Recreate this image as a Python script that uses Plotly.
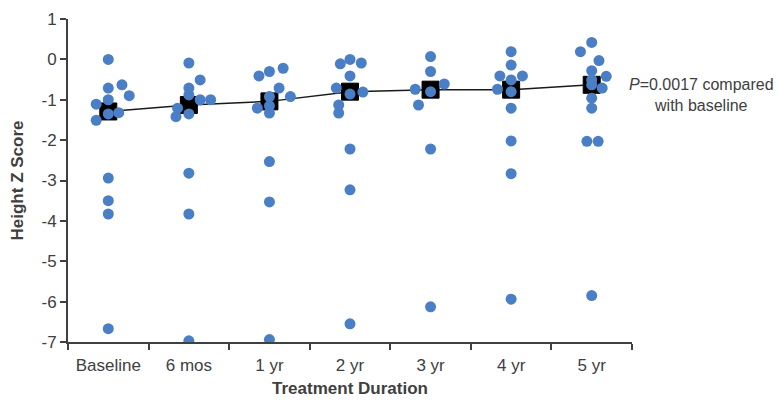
import plotly.graph_objects as go

categories = ["Baseline", "6 mos", "1 yr", "2 yr", "3 yr", "4 yr", "5 yr"]
y_ticks = [-7, -6, -5, -4, -3, -2, -1, 0, 1]
y_tick_text = ["-7", "-6", "-5", "-4", "-3", "-2", "-1", "0", "1"]

# Individual height Z scores per time point
z_baseline = [0.0, -0.71, -0.63, -0.90, -1.00, -1.11, -1.32, -1.35, -1.51, -2.94, -3.50, -3.83, -6.67]
z_6mos = [-0.09, -0.51, -0.71, -0.88, -1.00, -1.00, -1.21, -1.35, -1.42, -2.82, -3.83, -6.97]
z_1yr = [-0.22, -0.30, -0.41, -0.71, -0.92, -0.92, -1.15, -1.21, -1.33, -2.53, -3.53, -6.94]
z_2yr = [0.00, -0.09, -0.11, -0.41, -0.71, -0.81, -0.86, -1.13, -1.33, -2.22, -3.23, -6.55]
z_3yr = [0.07, -0.30, -0.61, -0.74, -0.80, -1.13, -2.22, -6.13]
z_4yr = [0.19, -0.14, -0.41, -0.41, -0.51, -0.74, -0.80, -1.21, -2.02, -2.83, -5.94]
z_5yr = [0.42, 0.19, -0.03, -0.28, -0.42, -0.51, -0.63, -0.71, -0.96, -1.21, -2.03, -2.03, -5.85]

# Horizontal jitter (category units) of each dot, as in the dot plot
jit_baseline = [0, 0, 0.17, 0.26, 0, -0.15, 0.13, 0, -0.15, 0, 0, 0, 0]
jit_6mos = [0, 0.14, 0, 0, 0.14, 0.27, -0.14, 0, -0.16, 0, 0, 0]
jit_1yr = [0.17, 0, -0.13, 0.12, 0.26, 0, 0, -0.15, 0, 0, 0, 0]
jit_2yr = [0, 0.14, -0.12, 0, -0.17, 0.16, 0, -0.14, -0.14, 0, 0, 0]
jit_3yr = [0, 0, 0.17, -0.19, 0, -0.15, 0, 0]
jit_4yr = [0, 0, -0.14, 0.14, 0, -0.17, 0, 0, 0, 0, 0]
jit_5yr = [0, -0.14, 0.09, 0, 0.18, 0, 0, 0.13, 0, 0, -0.06, 0.08, 0]

mean_z = [-1.29, -1.13, -1.04, -0.80, -0.75, -0.75, -0.63]

groups = [z_baseline, z_6mos, z_1yr, z_2yr, z_3yr, z_4yr, z_5yr]
jitters = [jit_baseline, jit_6mos, jit_1yr, jit_2yr, jit_3yr, jit_4yr, jit_5yr]

xs, ys = [], []
for i, (vals, jit) in enumerate(zip(groups, jitters)):
    for v, j in zip(vals, jit):
        xs.append(i + j)
        ys.append(v)

FONT = "Liberation Sans, Arial, sans-serif"
TXT = "#404040"

fig = go.Figure()
fig.add_trace(go.Scatter(
    x=list(range(len(categories))), y=mean_z, mode="lines+markers",
    line=dict(color="#1a1a1a", width=1.5),
    marker=dict(symbol="square", size=17, color="#000000",
                line=dict(color="#000000", width=1)),
    showlegend=False, hoverinfo="skip"))
fig.add_trace(go.Scatter(
    x=xs, y=ys, mode="markers",
    marker=dict(size=11, color="#4A7FC6", line=dict(width=0)),
    showlegend=False))

fig.add_annotation(
    x=1.124, y=-0.88, xref="paper", yref="y",
    text="<i>P</i>=0.0017 compared<br>with baseline",
    showarrow=False, align="center", xanchor="center", yanchor="middle",
    font=dict(family=FONT, size=16, color=TXT))

fig.update_layout(
    width=781, height=400,
    margin=dict(l=68, r=149, t=19, b=58),
    plot_bgcolor="white", paper_bgcolor="white",
    font=dict(family=FONT, size=16, color=TXT),
    xaxis=dict(
        range=[-0.5, 6.5], tickmode="array", automargin=False,
        tickvals=list(range(len(categories))), ticktext=categories,
        ticks="", showgrid=False, zeroline=False,
        showline=True, linecolor="#404040", linewidth=2,
        tickfont=dict(size=17, color=TXT), ticklabelstandoff=7,
        minor=dict(ticks="outside", tickmode="linear", tick0=-0.5, dtick=1,
                   ticklen=6, tickwidth=2, tickcolor="#404040", showgrid=False),
        title=dict(text="<b>Treatment Duration</b>", standoff=8,
                   font=dict(size=17, color=TXT)),
    ),
    yaxis=dict(
        range=[-7, 1], tickmode="array", tickvals=y_ticks, ticktext=y_tick_text,
        automargin=False,
        ticks="outside", ticklen=6, tickwidth=2, tickcolor="#404040",
        showgrid=False, zeroline=False,
        showline=True, linecolor="#404040", linewidth=2,
        tickfont=dict(size=17, color=TXT),
        title=dict(text="<b>Height Z Score</b>", standoff=14,
                   font=dict(size=17, color=TXT)),
    ),
)

fig.write_html("out.html")
